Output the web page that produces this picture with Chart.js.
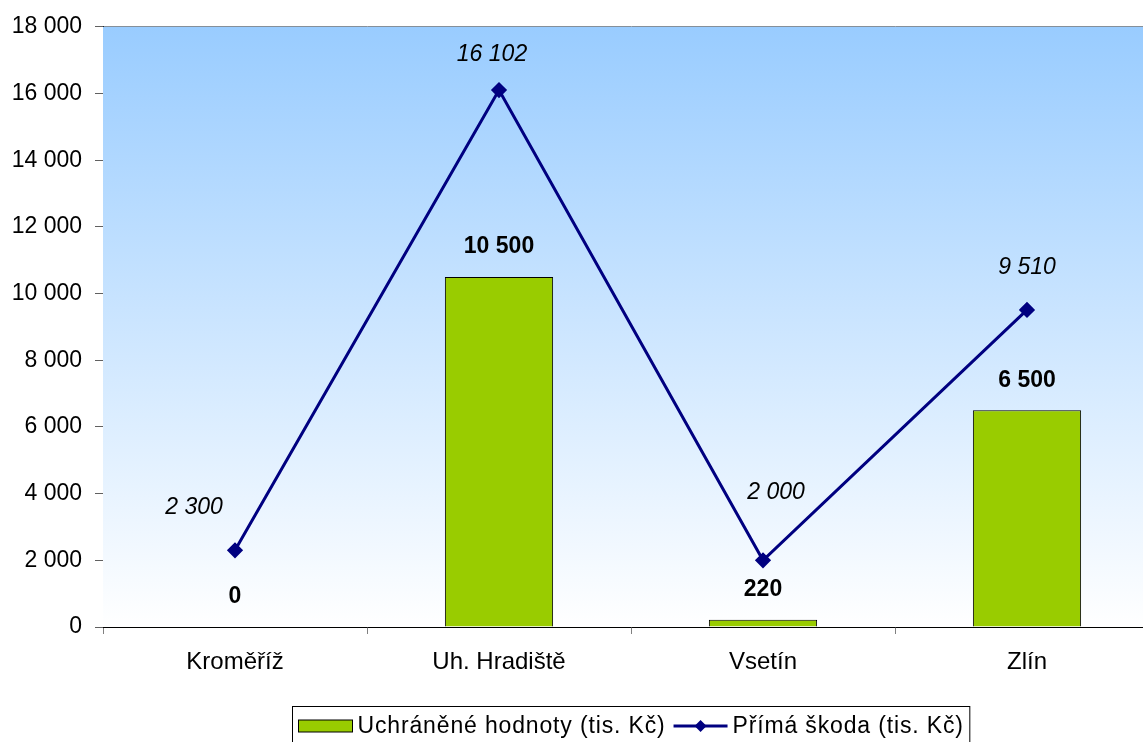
<!DOCTYPE html>
<html>
<head>
<meta charset="utf-8">
<script src="https://cdn.jsdelivr.net/npm/chart.js@4/dist/chart.umd.min.js"></script>
<style>
  html, body { margin: 0; padding: 0; overflow: hidden; background: #fff; }
  canvas { display: block; }
</style>
</head>
<body>
<canvas id="chart" width="1170" height="742"></canvas>
<script>
const categories = ['Kroměříž', 'Uh. Hradiště', 'Vsetín', 'Zlín'];
const savedValues = [0, 10500, 220, 6500];      // Uchráněné hodnoty
const damageValues = [2300, 16102, 2000, 9510]; // Přímá škoda
const seriesNames = ['Uchráněné hodnoty (tis. Kč)', 'Přímá škoda (tis. Kč)'];

const FONT = '"Liberation Sans", Arial, sans-serif';
const GREEN = '#99CC00';
const NAVY = '#000080';

// where Excel put the italic labels of the line, relative to each point
const lineLabelShift = [[-41, -43], [-7, -35], [13, -68], [0, -42]];

function fmt(v) {
    return String(v).replace(/\B(?=(\d{3})+(?!\d))/g, ' ');
}

const background = {
    id: 'background',
    beforeDatasetsDraw(chart) {
        const { ctx, chartArea: a } = chart;
        const g = ctx.createLinearGradient(0, a.top, 0, a.bottom);
        g.addColorStop(0, '#99CCFF');
        g.addColorStop(1, '#FFFFFF');
        ctx.save();
        ctx.fillStyle = g;
        ctx.fillRect(a.left, a.top, a.right - a.left, a.bottom - a.top);
        ctx.restore();
    }
};

const valueLabels = {
    id: 'valueLabels',
    afterDatasetsDraw(chart) {
        const ctx = chart.ctx;
        ctx.save();
        ctx.fillStyle = '#000';
        ctx.textAlign = 'center';
        ctx.textBaseline = 'middle';

        const bars = chart.getDatasetMeta(1).data;
        ctx.font = 'bold 23px ' + FONT;
        bars.forEach((b, i) => {
            ctx.fillText(fmt(savedValues[i]), b.x, b.y - 30);
        });

        const pts = chart.getDatasetMeta(0).data;
        ctx.font = 'italic 23px ' + FONT;
        pts.forEach((p, i) => {
            const s = lineLabelShift[i];
            ctx.fillText(fmt(damageValues[i]), p.x + s[0], p.y + s[1]);
        });
        ctx.restore();
    }
};

const legendBox = {
    id: 'legendBox',
    afterDraw(chart) {
        const { ctx, chartArea: a } = chart;
        ctx.save();
        ctx.font = '23px ' + FONT;
        ctx.letterSpacing = '0.85px';
        const w1 = ctx.measureText(seriesNames[0]).width;
        const w2 = ctx.measureText(seriesNames[1]).width;
        const sample = 54, gap = 5, pad = 6, between = 8;
        const total = pad + sample + gap + w1 + between + sample + gap + w2 + pad;
        const cx = (a.left + a.right) / 2;
        const left = Math.round(cx - total / 2) + 0.5;
        const top = 706.5;
        const mid = 726;

        ctx.strokeStyle = '#000';
        ctx.lineWidth = 1;
        ctx.strokeRect(left, top, total, 60);

        let x = left + pad;
        ctx.fillStyle = GREEN;
        ctx.fillRect(x, mid - 6, sample, 12);
        ctx.strokeRect(x, mid - 6, sample, 12);
        x += sample + gap;
        ctx.fillStyle = '#000';
        ctx.textBaseline = 'middle';
        ctx.textAlign = 'left';
        ctx.fillText(seriesNames[0], x, mid + 1);
        x += w1 + between;

        ctx.strokeStyle = NAVY;
        ctx.lineWidth = 3;
        ctx.beginPath();
        ctx.moveTo(x, mid);
        ctx.lineTo(x + sample, mid);
        ctx.stroke();
        const dx = x + sample / 2;
        ctx.fillStyle = NAVY;
        ctx.beginPath();
        ctx.moveTo(dx, mid - 6);
        ctx.lineTo(dx + 6, mid);
        ctx.lineTo(dx, mid + 6);
        ctx.lineTo(dx - 6, mid);
        ctx.closePath();
        ctx.fill();
        x += sample + gap;
        ctx.fillStyle = '#000';
        ctx.fillText(seriesNames[1], x, mid + 1);
        ctx.restore();
    }
};

new Chart(document.getElementById('chart'), {
    data: {
        labels: categories,
        datasets: [{
            type: 'line',
            label: seriesNames[1],
            data: damageValues,
            borderColor: NAVY,
            backgroundColor: NAVY,
            borderWidth: 3,
            tension: 0,
            pointStyle: 'rectRot',
            pointRadius: 6,
            pointHoverRadius: 6,
            order: 0
        }, {
            type: 'bar',
            label: seriesNames[0],
            data: savedValues,
            backgroundColor: GREEN,
            borderColor: '#000',
            borderWidth: 1,
            barPercentage: 0.41,
            categoryPercentage: 1,
            order: 1
        }]
    },
    options: {
        responsive: false,
        animation: false,
        layout: { padding: { top: 26, right: 11, left: 0, bottom: 0 } },
        plugins: {
            legend: { display: false },
            tooltip: { enabled: false }
        },
        scales: {
            x: {
                offset: true,
                grid: {
                    offset: true,
                    drawOnChartArea: false,
                    tickLength: 7,
                    tickColor: '#808080'
                },
                border: { color: '#000', width: 1 },
                ticks: {
                    color: '#000',
                    padding: 14,
                    font: { family: FONT, size: 24 }
                },
                afterFit(scale) { scale.height = 115; }
            },
            y: {
                min: 0,
                max: 18000,
                ticks: {
                    stepSize: 2000,
                    color: '#000',
                    padding: 13,
                    font: { family: FONT, size: 23 },
                    callback: v => fmt(v)
                },
                grid: {
                    tickLength: 8,
                    tickColor: '#606060',
                    color: c => (c.tick && c.tick.value === 18000) ? '#808080' : 'rgba(0,0,0,0)'
                },
                border: { color: '#000', width: 1 },
                afterFit(scale) { scale.width = 103; }
            }
        }
    },
    plugins: [background, valueLabels, legendBox]
});
</script>
</body>
</html>
